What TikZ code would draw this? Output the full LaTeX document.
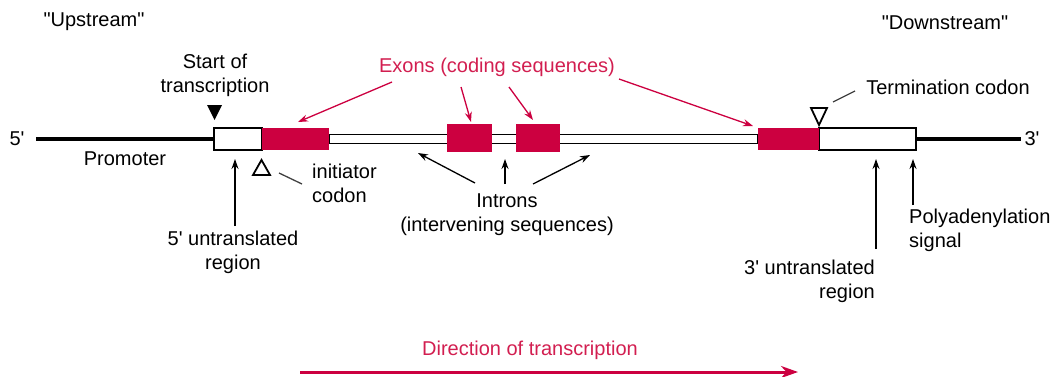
\documentclass[tikz,border=0pt]{standalone}
\usepackage{fontspec}
\setmainfont{Liberation Sans}
\usetikzlibrary{arrows.meta}
\definecolor{exon}{RGB}{204,0,64}
\definecolor{exontext}{RGB}{210,30,80}
\newcommand{\dq}{\textquotedbl}
\newcommand{\sq}{\textquotesingle}
\begin{document}
\begin{tikzpicture}[x=1pt,y=-1pt,
  font=\fontsize{20}{24}\selectfont,
  lbl/.style={inner sep=0pt, align=center},
  arr/.style={-{Stealth[length=10,width=7]}, line width=1.3},
  redarr/.style={arr, draw=exon},
  exonbox/.style={fill=exon, inner sep=0pt},
  utrbox/.style={draw, line width=1.5, fill=white, inner sep=0pt},
  dashlink/.style={line width=1.3, draw=black!75},
  dna/.style={line width=4}]
\useasboundingbox (0,0) rectangle (1059,376);

% DNA ends
\node[lbl] (p5) at (17,139) {5\sq};
\node[lbl] (p3) at (1032,139) {3\sq};
\coordinate (l0) at (36,139);
\coordinate (r1) at (1021,139);

% intron strip
\node[draw, line width=1.3, fill=white, minimum width=429, minimum height=9, inner sep=0pt] (intron) at (543.5,139) {};
% UTR boxes
\node[utrbox, minimum width=48, minimum height=22] (utr5) at (238,139) {};
\node[utrbox, minimum width=97, minimum height=22] (utr3) at (867.5,139) {};
\draw[dna] (l0) -- (utr5.west);
\draw[dna] (utr3.east) -- (r1);
% exons
\node[exonbox, minimum width=67, minimum height=22] (e1) at (295.5,139) {};
\node[exonbox, minimum width=45, minimum height=28] (e2) at (469.5,138) {};
\node[exonbox, minimum width=44, minimum height=28] (e3) at (538,138) {};
\node[exonbox, minimum width=61, minimum height=22] (e4) at (788.5,139) {};

% markers
\fill (207,105) -- (222,105) -- (214.5,120) -- cycle;
\draw[line width=1.8, line join=miter] (253,175) -- (270,175) -- (261.5,160) -- cycle;
\draw[line width=1.8, line join=miter] (811,108) -- (827,108) -- (819,125) -- cycle;

% labels
\node[lbl] (up) at (94,22) {\dq Upstream\dq};
\node[lbl] (down) at (945,23) {\dq Downstream\dq};
\node[lbl] (start) at (215,75) {Start of\\transcription};
\node[lbl] (prom) at (125,159) {Promoter};
\node[lbl, align=left, anchor=west] (init) at (312,183) {initiator\\codon};
\node[lbl] (term) at (948,87) {Termination codon};
\node[lbl, text=exontext] (exons) at (497,67) {Exons (coding sequences)};
\node[lbl] (introns) at (507,215) {Introns\\(intervening sequences)};
\node[lbl] (utr5l) at (233,252) {5\sq{} untranslated\\region};
\node[lbl, align=right, anchor=east] (utr3l) at (875,281) {3\sq{} untranslated\\region};
\node[lbl, align=left, anchor=west] (polyA) at (909,230) {Polyadenylation\\signal};
\node[lbl, text=exontext] (dir) at (530,350) {Direction of transcription};

% coordinates for connectors
\coordinate (ex1s) at (392,82);  \coordinate (ex1e) at (298,122);
\coordinate (ex2s) at (461,87);  \coordinate (ex2e) at (471,122);
\coordinate (ex3s) at (509,87);  \coordinate (ex3e) at (533,120);
\coordinate (ex4s) at (619,79);  \coordinate (ex4e) at (753,126);
\coordinate (in1s) at (475,183); \coordinate (in1e) at (418,153);
\coordinate (in2s) at (505,184); \coordinate (in2e) at (505,159);
\coordinate (in3s) at (533,184); \coordinate (in3e) at (590,155);
\coordinate (u5s) at (235,226);  \coordinate (u5e) at (235,159);
\coordinate (u3s) at (876,249);  \coordinate (u3e) at (876,159);
\coordinate (pas) at (913,205);  \coordinate (pae) at (913,159);
\coordinate (ics) at (279,173);  \coordinate (ice) at (302,184);
\coordinate (tcs) at (833,102);  \coordinate (tce) at (855,91);
\coordinate (ds) at (300,372);   \coordinate (de) at (798,372);

\draw[redarr] (ex1s) -- (ex1e);
\draw[redarr] (ex2s) -- (ex2e);
\draw[redarr] (ex3s) -- (ex3e);
\draw[redarr] (ex4s) -- (ex4e);
\draw[arr] (in1s) -- (in1e);
\draw[arr] (in2s) -- (in2e);
\draw[arr] (in3s) -- (in3e);
\draw[arr] (u5s) -- (u5e);
\draw[arr] (u3s) -- (u3e);
\draw[arr] (pas) -- (pae);
\draw[dashlink] (ics) -- (ice);
\draw[dashlink] (tcs) -- (tce);
\draw[draw=exon, line width=3, -{Stealth[length=17,width=12]}] (ds) -- (de);
\end{tikzpicture}
\end{document}
